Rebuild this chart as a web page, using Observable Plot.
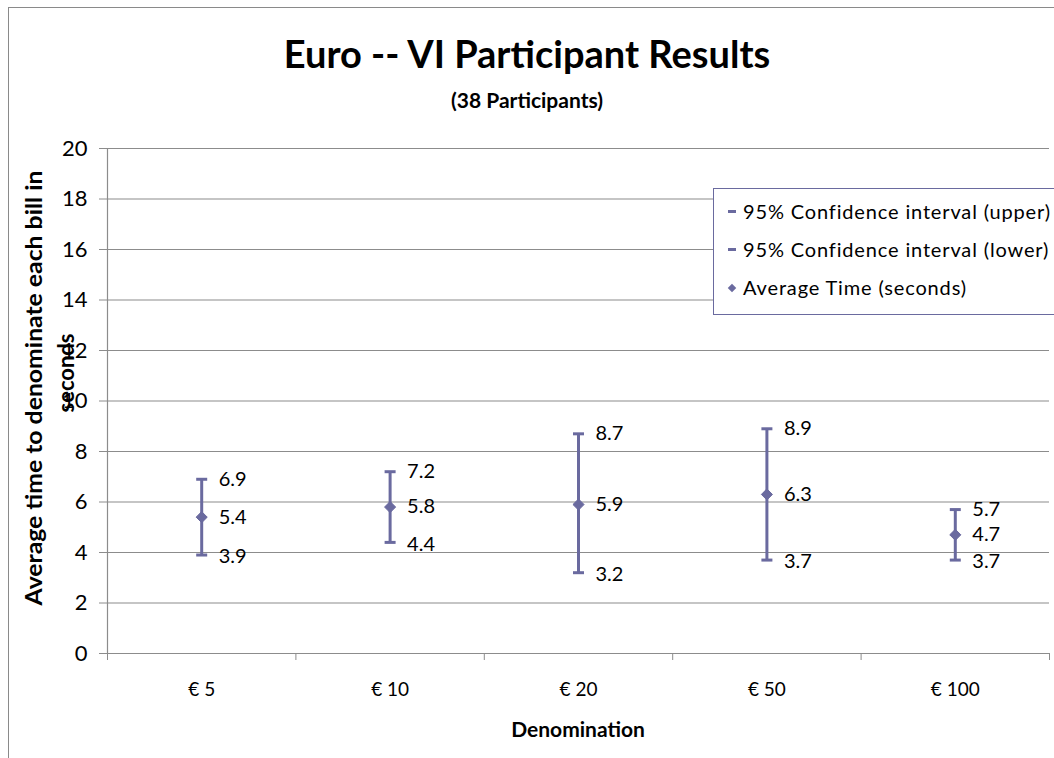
<!DOCTYPE html>
<html>
<head>
<meta charset="utf-8">
<script src="https://cdn.jsdelivr.net/npm/d3@7"></script>
<script src="https://cdn.jsdelivr.net/npm/@observablehq/plot@0.6"></script>
<style>
  html, body { margin: 0; padding: 0; background: #fff; }
  body { width: 1054px; height: 758px; overflow: hidden; position: relative; font-family: Lato, "Open Sans", sans-serif; }
  #frame { position: absolute; left: 8px; top: 7px; width: 1200px; height: 900px; border-left: 1.5px solid #8a8a8a; border-top: 1.5px solid #8a8a8a; }
  #chart { position: absolute; left: 0; top: 0; }
  .title { position: absolute; left: 0; width: 1054px; text-align: center; font-weight: bold; color: #000; white-space: nowrap; line-height: 1; }
  #legend { position: absolute; left: 713px; top: 188px; width: 420px; height: 127px; border: 1.5px solid #6a6a9f; background: #fff; box-sizing: border-box; }
  .lg { position: absolute; left: 14px; font-size: 20px; letter-spacing: 0.85px; white-space: nowrap; line-height: 20px; }
  .dash { display: inline-block; width: 8px; height: 3px; background: #6a6a9f; vertical-align: middle; margin-right: 7px; position: relative; top: -2px; }
  .dia { display: inline-block; width: 6px; height: 6px; background: #6a6a9f; transform: rotate(45deg); vertical-align: middle; margin-left: 1px; margin-right: 8px; position: relative; top: -2px; }
  #ylab { position: absolute; left: 0; top: 0; }
</style>
</head>
<body>
<div id="frame"></div>
<div id="chart"></div>
<div class="title" style="top:34px;font-size:38px;">Euro -- VI Participant Results</div>
<div class="title" style="top:89px;font-size:21px;">(38 Participants)</div>
<div class="title" style="top:718px;font-size:21px;left:51px;">Denomination</div>
<svg id="ylab" width="120" height="758">
  <text transform="translate(42,388) rotate(-90)" text-anchor="middle" font-family="Lato" font-weight="bold" font-size="23" textLength="435" lengthAdjust="spacingAndGlyphs">Average time to denominate each bill in</text>
  <text transform="translate(74,373) rotate(-90)" text-anchor="middle" font-family="Lato" font-weight="bold" font-size="22">seconds</text>
</svg>
<div id="legend">
  <div class="lg" style="top:12px;"><span class="dash"></span>95% Confidence interval (upper)</div>
  <div class="lg" style="top:50px;"><span class="dash"></span>95% Confidence interval (lower)</div>
  <div class="lg" style="top:88px;"><span class="dia"></span>Average Time (seconds)</div>
</div>
<script>
const categories = ["€ 5", "€ 10", "€ 20", "€ 50", "€ 100"];
const averages = [5.4, 5.8, 5.9, 6.3, 4.7];
const upperCI = [6.9, 7.2, 8.7, 8.9, 5.7];
const lowerCI = [3.9, 4.4, 3.2, 3.7, 3.7];
const yTicks = [0, 2, 4, 6, 8, 10, 12, 14, 16, 18, 20];

const color = "#6a6a9f";
const grid = "#8c8c8c";

const data = categories.map((c, i) => ({
  cat: c, pos: i + 0.5, avg: averages[i], up: upperCI[i], lo: lowerCI[i]
}));

// horizontal cap symbol
const capSymbol = {
  draw(ctx, size) {
    const r = Math.sqrt(size / Math.PI);
    ctx.moveTo(-r, 0);
    ctx.lineTo(r, 0);
  }
};

const chart = Plot.plot({
  width: 1054,
  height: 758,
  marginTop: 148,
  marginBottom: 105,
  marginLeft: 107,
  marginRight: 5,
  style: { fontFamily: "Lato, 'Open Sans', sans-serif", background: "transparent", color: "#000", overflow: "visible" },
  x: { type: "linear", domain: [0, categories.length] },
  y: { domain: [0, 20] },
  marks: [
    Plot.ruleY(yTicks, { stroke: grid, strokeWidth: 1.2 }),
    Plot.axisY({ ticks: yTicks, tickSize: 8, tickPadding: 12, fontSize: 22, stroke: grid, label: null }),
    Plot.ruleX([0], { y1: 0, y2: 20, stroke: grid, strokeWidth: 1.2 }),
    Plot.axisX({ ticks: d3.range(0, categories.length + 1), tickSize: 7, tickFormat: () => "", stroke: grid, label: null }),
    Plot.axisX({ ticks: data.map(d => d.pos), tickSize: 0, tickPadding: 29, fontSize: 19,
      tickFormat: v => categories[Math.floor(v)], label: null }),
    Plot.ruleX(data, { x: "pos", y1: "lo", y2: "up", stroke: color, strokeWidth: 3 }),
    Plot.dot(data, { x: "pos", y: "up", symbol: capSymbol, r: 5.5, stroke: color, strokeWidth: 3 }),
    Plot.dot(data, { x: "pos", y: "lo", symbol: capSymbol, r: 5.5, stroke: color, strokeWidth: 3 }),
    Plot.dot(data, { x: "pos", y: "avg", symbol: "diamond2", r: 5, fill: color, stroke: color, strokeWidth: 1 }),
    Plot.text(data, { x: "pos", y: "up", text: d => d.up.toFixed(1), textAnchor: "start", dx: 17, fontSize: 20, fill: "#000" }),
    Plot.text(data, { x: "pos", y: "avg", text: d => d.avg.toFixed(1), textAnchor: "start", dx: 17, fontSize: 20, fill: "#000" }),
    Plot.text(data, { x: "pos", y: "lo", text: d => d.lo.toFixed(1), textAnchor: "start", dx: 17, dy: 2, fontSize: 20, fill: "#000" })
  ]
});
document.getElementById("chart").appendChild(chart);
</script>
</body>
</html>
